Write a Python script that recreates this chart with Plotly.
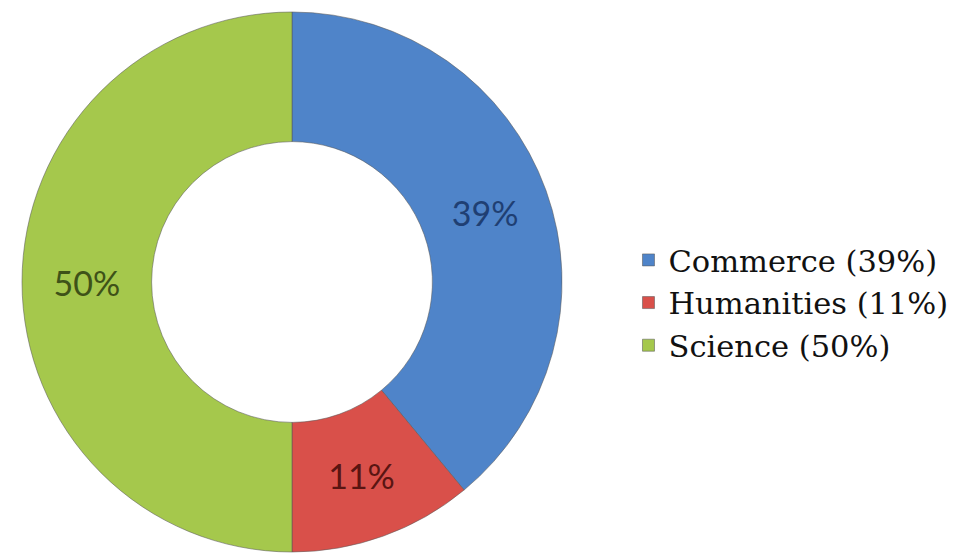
import plotly.graph_objects as go

categories = ["Commerce (39%)", "Humanities (11%)", "Science (50%)"]
values = [39, 11, 50]
slice_labels = ["39%", "11%", "50%"]
colors = ["#4F84C9", "#D9504A", "#A5C84C"]
text_colors = ["#1F3F73", "#5A1512", "#3E5218"]

W, H = 962, 559
OFF = 8  # page body margin
fig = go.Figure(go.Pie(
    labels=categories,
    values=values,
    text=slice_labels,
    textinfo="text",
    textposition="inside",
    insidetextorientation="horizontal",
    hole=0.52,
    sort=False,
    direction="clockwise",
    rotation=0,
    marker=dict(colors=colors, line=dict(color="rgba(90,90,90,0.55)", width=1)),
    textfont=dict(family="Lato", size=34, color=text_colors),
    domain=dict(x=[(22 - OFF) / W, (562 - OFF) / W],
                y=[1 - (552 - OFF) / H, 1 - (12 - OFF) / H]),
    hoverinfo="label",
))

fig.update_layout(
    width=W, height=H,
    margin=dict(l=0, r=0, t=0, b=0),
    paper_bgcolor="white",
    plot_bgcolor="white",
    showlegend=True,
    legend=dict(
        x=0.645, y=0.473, xanchor="left", yanchor="middle",
        font=dict(family="DejaVu Serif", size=30.5, color="#111111"),
        bgcolor="rgba(0,0,0,0)",
    ),
)

fig.write_html("out.html")
